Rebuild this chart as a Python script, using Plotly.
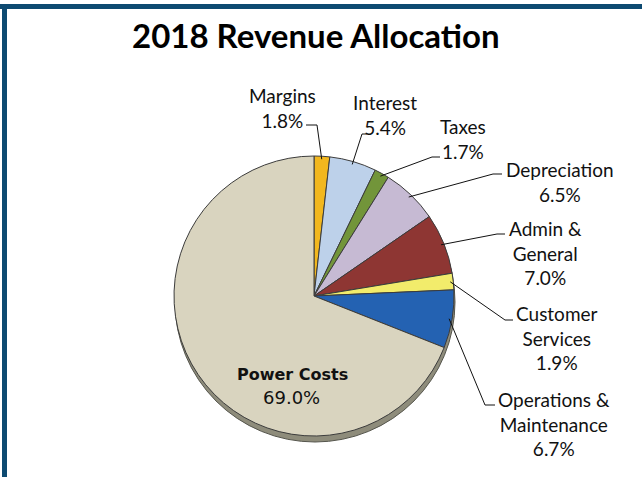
import numpy as np
import plotly.graph_objects as go

# ---- data -------------------------------------------------------------
categories = ["Margins", "Interest", "Taxes", "Depreciation", "Admin & General",
              "Customer Services", "Operations & Maintenance", "Power Costs"]
shares = [1.8, 5.4, 1.7, 6.5, 7.0, 1.9, 6.7, 69.0]
label_text = ["Margins", "Interest", "Taxes", "Depreciation", "Admin &<br>General",
              "Customer<br>Services", "Operations &<br>Maintenance", None]

colors = ["#F2B71E", "#BDD1EA", "#72953A", "#C6BAD3", "#8E3633",
          "#F2EC6B", "#2462B2", "#D9D4BF"]

# ---- geometry (pixels) ------------------------------------------------
W, H = 642, 477
CX, CY, R = 314, 296, 140

# label centre, elbow and line end for each small slice
label_pos = [(282, 108), (385, 115), (463, 139), (560, 182),
             (545, 253), (557, 338), (554, 424)]
elbows = [((317, 125), (306, 125)), ((362, 134), (367, 134)),
          ((432, 157), (440, 157)), ((493, 174), (502, 174)),
          ((497, 234), (505, 234)), ((505, 320), (513, 320)),
          ((485, 405), (495, 405))]


def px(x):
    return x / W


def py(y):
    return 1 - y / H


fig = go.Figure(go.Pie(
    labels=categories,
    values=shares,
    sort=False,
    direction="clockwise",
    rotation=0,
    textinfo="none",
    marker=dict(colors=colors, line=dict(color="#3C3C3C", width=1)),
    domain=dict(x=[px(CX - R), px(CX + R)], y=[py(CY + R), py(CY - R)]),
    hovertemplate="<b>%{label}</b>: %{value:.1f}%<extra></extra>",
))

shapes = [
    # 3-D edge under the pie
    dict(type="circle", xref="paper", yref="paper", layer="below",
         x0=px(CX - R + 1), x1=px(CX + R + 1), y0=py(CY + R + 6), y1=py(CY - R + 6),
         fillcolor="#8E8C7B", line=dict(color="#55554C", width=1)),
    # frame
    dict(type="rect", xref="paper", yref="paper", x0=-0.01, x1=1.01,
         y0=py(9), y1=py(4), fillcolor="#0D4A71", line_width=0),
    dict(type="rect", xref="paper", yref="paper", x0=px(2), x1=px(7),
         y0=-0.01, y1=py(4), fillcolor="#0D4A71", line_width=0),
]

# leader lines from the slice mid-angle to the labels
cum = np.cumsum([0] + shares)
total = cum[-1]
annotations = []
for i, txt in enumerate(label_text):
    if txt is None:
        continue
    mid = (cum[i] + shares[i] / 2) / total * 2 * np.pi
    sx, sy = CX + (R - 3) * np.sin(mid), CY - (R - 3) * np.cos(mid)
    (ex, ey), (tx, ty) = elbows[i]
    shapes.append(dict(type="path", xref="paper", yref="paper",
                       path=f"M {px(sx)} {py(sy)} L {px(ex)} {py(ey)} L {px(tx)} {py(ty)}",
                       line=dict(color="#111111", width=1)))
    lx, ly = label_pos[i]
    annotations.append(dict(x=px(lx), y=py(ly), xref="paper", yref="paper",
                            text=f"{txt}<br>{shares[i]:.1f}%", showarrow=False,
                            xanchor="center", yanchor="middle", align="center",
                            font=dict(family="Lato, sans-serif", size=19, color="#111111")))

# big slice label inside
annotations.append(dict(x=px(292), y=py(374), xref="paper", yref="paper",
                        yanchor="middle", text=f"<b>{categories[-1]}</b>", showarrow=False,
                        font=dict(family="DejaVu Sans", size=16, color="#111111")))
annotations.append(dict(x=px(291), y=py(397), xref="paper", yref="paper",
                        yanchor="middle", text=f"{shares[-1]:.1f}%", showarrow=False,
                        font=dict(family="DejaVu Sans", size=18, color="#111111")))

# title
annotations.append(dict(x=px(316), y=py(35), xref="paper", yref="paper",
                        yanchor="middle", text="<b>2018 Revenue Allocation</b>",
                        showarrow=False,
                        font=dict(family="Lato, sans-serif", size=33, color="#000000")))

fig.update_layout(
    width=W,
    height=H,
    margin=dict(l=0, r=0, t=0, b=0),
    paper_bgcolor="white",
    plot_bgcolor="white",
    showlegend=False,
    shapes=shapes,
    annotations=annotations,
)

fig.write_html("out.html", config={"displayModeBar": False},
               post_script="document.body.style.margin = '0';")
